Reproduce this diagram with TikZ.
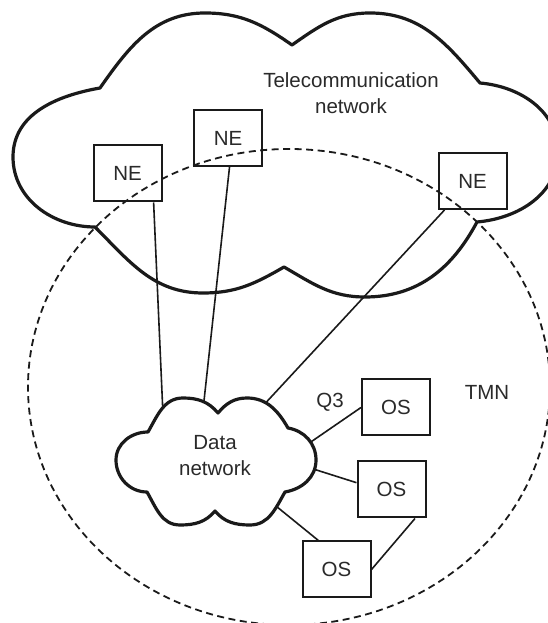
\documentclass[tikz,border=0pt]{standalone}
\usepackage{fontspec}
\newfontfamily\tmnfont{Liberation Sans}
\usepackage{tikz}
\usetikzlibrary{positioning,calc}
\definecolor{tmnink}  {HTML}{1A1A1A}
\definecolor{tmntext} {HTML}{2A2A2A}
\tikzset{
  tmnbox/.style={draw=tmnink, fill=white, line width=2pt, minimum width=68pt,
                 minimum height=56pt, inner sep=0pt, text=tmntext,
                 font=\tmnfont\fontsize{20.5}{26}\selectfont},
  tmnlabel/.style={text=tmntext, align=center, inner sep=0pt,
                   font=\tmnfont\fontsize{20.5}{26}\selectfont},
  tmncloud/.style={draw=tmnink, fill=white, line width=3.2pt, line join=round},
  tmnlink/.style={draw=tmnink, line width=1.6pt},
  tmnborder/.style={draw=tmnink, line width=1.8pt, dash pattern=on 7pt off 4.5pt},
}
\begin{document}
\begin{tikzpicture}[x=1pt,y=1pt]
  \useasboundingbox (0,0) rectangle (548,623);
  % telecommunication network
  \draw[tmncloud] (100,535) to[out=55,in=180] (205,610) to[out=0,in=145] (292,578)
    to[out=35,in=180] (370,610) to[out=0,in=130] (480,540)
    to[out=-5,in=90] (558,471) to[out=-90,in=5] (477,401)
    to[out=-118,in=0] (365,326) to[out=180,in=-30] (284,356)
    to[out=-150,in=0] (203,330) to[out=180,in=-45] (95,396)
    to[out=180,in=-90] (13,466) to[out=90,in=190] (100,535) -- cycle;
  \node[tmnlabel] (tel) at (351,529.5) {Telecommunication\\network};
  \node[tmnbox] (ne1) at (127.5,449.5) {NE};
  \node[tmnbox] (ne2) at (228,485) {NE};
  \node[tmnbox] (ne3) at (472.5,442) {NE};
  \node[tmnbox] (os1) at (396,215.5) {OS};
  \node[tmnbox] (os2) at (391.5,133.5) {OS};
  \node[tmnbox] (os3) at (336.5,53.5) {OS};
  \node[tmnlabel] (q3) at (330,221) {Q3};
  \node[tmnlabel] (tmn) at (487,231) {TMN};
  % ends hidden under the data cloud
  \coordinate (d1) at (163,208);
  \coordinate (d2) at (203,213);
  \coordinate (d3) at (260,214);
  \coordinate (d4) at (305,177);
  \coordinate (d5) at (307,156);
  \coordinate (d6) at (271,121);
  \draw[tmnlink] (ne1.-48) -- (d1);
  \draw[tmnlink] (ne2.-87) -- (d2);
  \draw[tmnlink] (ne3.-134) -- (d3);
  \draw[tmnlink] (os1.west) -- (d4);
  \draw[tmnlink] (os2.169) -- (d5);
  \draw[tmnlink] (os3.122) -- (d6);
  \draw[tmnlink] (os2.-51) -- (os3.east);
  % data network
  \draw[tmncloud] (148,191) to[out=60,in=180] (183,225) to[out=0,in=130] (218,210)
    to[out=50,in=180] (247,225) to[out=0,in=120] (288,195)
    to[out=-10,in=90] (316,163) to[out=-90,in=10] (285,131)
    to[out=-120,in=0] (250,98) to[out=180,in=-50] (215,112)
    to[out=-130,in=0] (180,98) to[out=180,in=-60] (147,131)
    to[out=180,in=-90] (116,163) to[out=90,in=180] (148,191) -- cycle;
  \node[tmnlabel] (dn) at (215,167.5) {Data\\network};
  % TMN border
  \draw[tmnborder] (289,236) ellipse [x radius=261, y radius=238];
\end{tikzpicture}
\end{document}
